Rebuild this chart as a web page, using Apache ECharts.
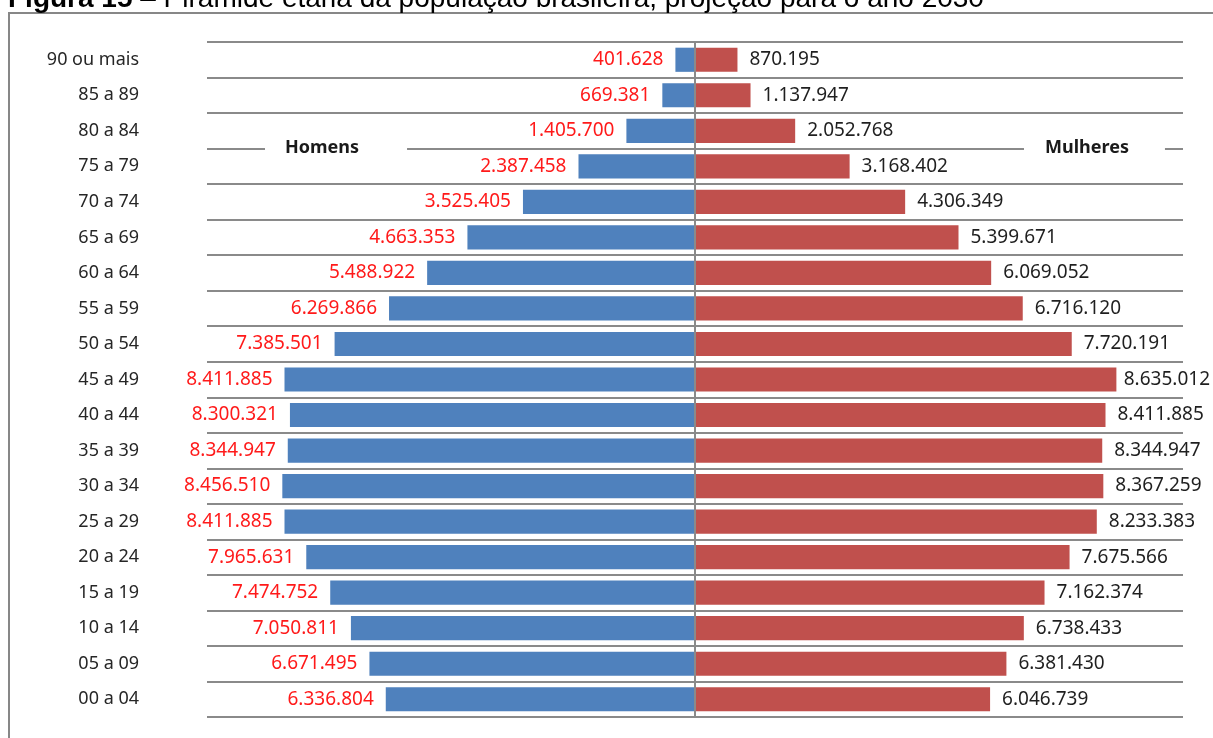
<!DOCTYPE html>
<html>
<head>
<meta charset="utf-8">
<script src="https://cdn.jsdelivr.net/npm/echarts@6/dist/echarts.min.js"></script>
<style>
  html, body { margin: 0; padding: 0; background: #fff; }
  #chart { width: 1213px; height: 738px; }
</style>
</head>
<body>
<div id="chart"></div>
<script>
// Faixas etárias (de baixo para cima)
const faixas = ['00 a 04', '05 a 09', '10 a 14', '15 a 19', '20 a 24', '25 a 29', '30 a 34',
  '35 a 39', '40 a 44', '45 a 49', '50 a 54', '55 a 59', '60 a 64', '65 a 69', '70 a 74',
  '75 a 79', '80 a 84', '85 a 89', '90 ou mais'];

// População projetada para 2030
const homens = [6336804, 6671495, 7050811, 7474752, 7965631, 8411885, 8456510,
  8344947, 8300321, 8411885, 7385501, 6269866, 5488922, 4663353, 3525405,
  2387458, 1405700, 669381, 401628];
const mulheres = [6046739, 6381430, 6738433, 7162374, 7675566, 8233383, 8367259,
  8344947, 8411885, 8635012, 7720191, 6716120, 6069052, 5399671, 4306349,
  3168402, 2052768, 1137947, 870195];

const FONT = '"Noto Sans", sans-serif';
const TITLE_FONT = '"Liberation Sans", Arial, sans-serif';
const fmt = v => Math.abs(v).toLocaleString('de-DE');

const chart = echarts.init(document.getElementById('chart'), null, { renderer: 'canvas' });
const W = 1213;

chart.setOption({
  animation: false,
  backgroundColor: '#fff',
  textStyle: { fontFamily: FONT },
  graphic: [
    {
      type: 'rect', silent: true, z: -1,
      shape: { x: 9, y: 13, width: 1400, height: 900 },
      style: { fill: 'none', stroke: '#878787', lineWidth: 2 }
    },
    {
      type: 'text', silent: true, x: 8, y: -15,
      style: {
        text: '{b|Figura 15} – Pirâmide etária da população brasileira, projeção para o ano 2030',
        font: '28px ' + TITLE_FONT,
        fill: '#000',
        verticalAlign: 'top',
        rich: { b: { fontWeight: 'bold', fontSize: 28, fontFamily: TITLE_FONT } }
      }
    }
  ],
  legend: [
    {
      data: ['Homens'], left: 265, top: 135, orient: 'horizontal',
      icon: 'rect', itemWidth: 0, itemHeight: 0,
      backgroundColor: '#fff', padding: [4, 48, 4, 15],
      textStyle: { fontFamily: FONT, fontWeight: 'bold', fontSize: 18, color: '#1a1a1a' },
      selectedMode: false
    },
    {
      data: ['Mulheres'], left: 1024, top: 135, orient: 'horizontal',
      icon: 'rect', itemWidth: 0, itemHeight: 0,
      backgroundColor: '#fff', padding: [4, 36, 4, 16],
      textStyle: { fontFamily: FONT, fontWeight: 'bold', fontSize: 18, color: '#1a1a1a' },
      selectedMode: false
    }
  ],
  grid: { left: 207, right: 30, top: 42, bottom: 21, containLabel: false },
  xAxis: {
    type: 'value', min: -10000000, max: 10000000, show: false
  },
  yAxis: {
    type: 'category',
    data: faixas,
    axisLine: { show: false },
    axisTick: { show: false },
    axisLabel: { margin: 68, fontSize: 18, color: '#262626', fontFamily: FONT },
    splitLine: { show: true, lineStyle: { color: '#8a8a8a', width: 2 } }
  },
  series: [
    {
      name: 'Homens', type: 'bar',
      data: homens.map(v => -v),
      barGap: '-100%', barCategoryGap: '32%',
      itemStyle: { color: '#4F81BD' },
      label: {
        show: true, position: 'left', distance: 12,
        color: '#ff1a1a', fontSize: 19, fontFamily: FONT,
        formatter: p => fmt(p.value)
      },
      markLine: {
        silent: true, symbol: 'none', label: { show: false },
        lineStyle: { color: '#8a8a8a', width: 2, type: 'solid' },
        data: [{ xAxis: 0 }]
      },
      z: 3
    },
    {
      name: 'Mulheres', type: 'bar',
      data: mulheres,
      itemStyle: { color: '#C0504D' },
      label: {
        show: true, position: 'right', distance: 12,
        color: '#1f1f1f', fontSize: 19, fontFamily: FONT,
        formatter: p => fmt(p.value)
      },
      // mantém os rótulos dentro da área do gráfico
      labelLayout: p => {
        const r = p.labelRect;
        if (r.x + r.width > W - 3) {
          return { x: W - 3 - r.width, y: r.y + r.height / 2, align: 'left', verticalAlign: 'middle' };
        }
        return {};
      },
      z: 3
    }
  ]
});
</script>
</body>
</html>
